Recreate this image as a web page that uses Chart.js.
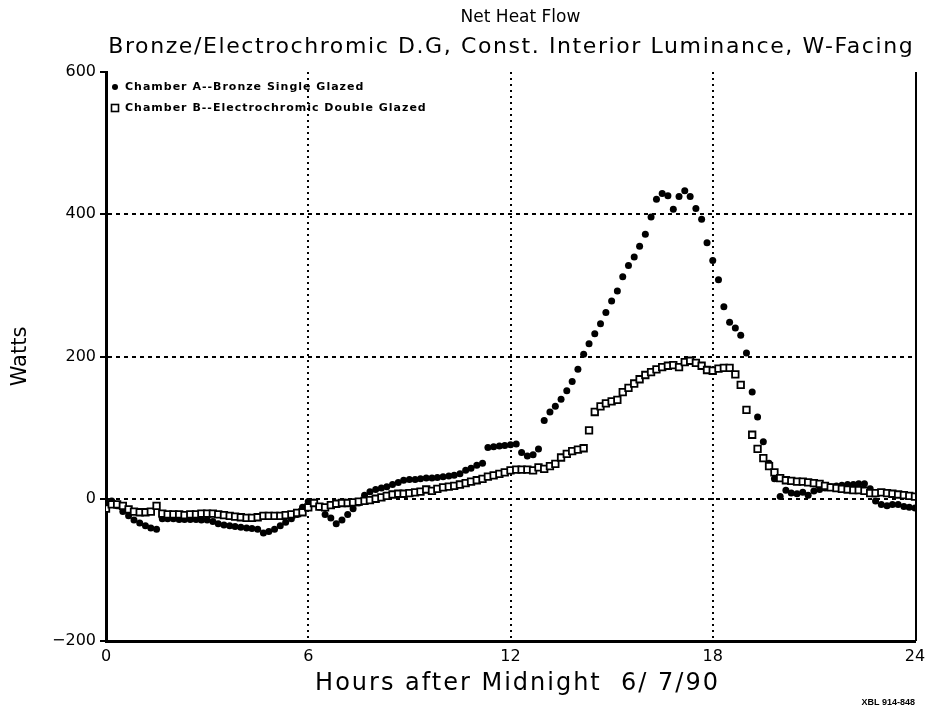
<!DOCTYPE html>
<html><head><meta charset="utf-8">
<script src="https://cdn.jsdelivr.net/npm/chart.js@4/dist/chart.umd.min.js"></script>
<style>html,body{margin:0;padding:0;background:#fff}#wrap{width:932px;height:713px}</style>
</head><body><div id="wrap"><canvas id="c" width="932" height="713"></canvas></div>
<script>
const titleText = 'Net Heat Flow';
const subtitleText = 'Bronze/Electrochromic D.G, Const. Interior Luminance, W-Facing';
const xTitle = 'Hours after Midnight  6/ 7/90';
const yTitle = 'Watts';
const footnote = 'XBL 914-848';
const seriesLabels = ['Chamber A--Bronze Single Glazed', 'Chamber B--Electrochromic Double Glazed'];
const xTicks = [0, 6, 12, 18, 24];
const yTicks = [-200, 0, 200, 400, 600];

const hours = [
  0,0.17,0.33,0.5,0.67,0.83,1,1.17,1.33,1.5,1.67,1.83,
  2,2.17,2.33,2.5,2.67,2.83,3,3.17,3.33,3.5,3.67,3.83,
  4,4.17,4.33,4.5,4.67,4.83,5,5.17,5.33,5.5,5.67,5.83,
  6,6.17,6.33,6.5,6.67,6.83,7,7.17,7.33,7.5,7.67,7.83,
  8,8.17,8.33,8.5,8.67,8.83,9,9.17,9.33,9.5,9.67,9.83,
  10,10.17,10.33,10.5,10.67,10.83,11,11.17,11.33,11.5,11.67,11.83,
  12,12.17,12.33,12.5,12.67,12.83,13,13.17,13.33,13.5,13.67,13.83,
  14,14.17,14.33,14.5,14.67,14.83,15,15.17,15.33,15.5,15.67,15.83,
  16,16.17,16.33,16.5,16.67,16.83,17,17.17,17.33,17.5,17.67,17.83,
  18,18.17,18.33,18.5,18.67,18.83,19,19.17,19.33,19.5,19.67,19.83,
  20,20.17,20.33,20.5,20.67,20.83,21,21.17,21.33,21.5,21.67,21.83,
  22,22.17,22.33,22.5,22.67,22.83,23,23.17,23.33,23.5,23.67,23.83,
  24
];

const chamberA = [
  -12,-3,-10,-18,-24,-30,-34,-38,-41,-43,-28,-28,
  -28,-29,-29,-29,-29,-30,-30,-32,-35,-37,-38,-39,
  -40,-41,-42,-43,-48,-46,-43,-38,-33,-28,-22,-12,
  -4,-5,-12,-22,-27,-35,-30,-22,-14,-6,5,10,
  13,15,17,20,23,26,27,27,28,29,29,30,
  31,32,33,35,40,43,47,50,72,73,74,75,
  76,77,65,60,62,70,110,122,130,140,152,165,
  182,203,218,232,246,262,278,292,312,328,340,355,
  372,396,421,429,426,407,425,433,425,408,393,360,
  335,308,270,248,240,230,205,150,115,80,50,28,
  3,12,8,7,9,5,11,13,15,17,18,19,
  20,20,21,21,14,-3,-8,-10,-8,-8,-11,-12,
  -13
];

const chamberB = [
  -14,-8,-8,-10,-15,-18,-19,-19,-18,-10,-21,-22,
  -22,-22,-23,-22,-22,-21,-21,-21,-22,-23,-24,-25,
  -26,-27,-27,-26,-24,-24,-24,-24,-23,-22,-20,-19,
  -12,-6,-11,-12,-9,-7,-6,-6,-5,-4,-3,-2,
  0,2,4,6,7,7,8,9,10,13,11,14,
  16,17,18,20,22,24,26,28,31,33,35,37,
  40,41,41,41,40,44,42,46,49,58,63,67,
  69,71,96,122,130,134,137,139,150,156,162,168,
  174,178,182,185,187,188,185,192,194,191,187,181,
  180,183,184,184,175,160,125,90,70,57,46,37,
  29,26,25,24,24,23,22,21,18,16,15,14,
  13,12,12,11,8,8,9,8,7,6,5,4,
  3
];

const FONT = 'DejaVu Sans';

function spacedText(ctx, text, x, y, spacing) {
  ctx.letterSpacing = spacing + 'px';
  const w = ctx.measureText(text).width;
  if (ctx.textAlign === 'center') {
    ctx.textAlign = 'left';
    ctx.fillText(text, x - (w - spacing) / 2, y);
    ctx.textAlign = 'center';
  } else {
    ctx.fillText(text, x, y);
  }
  ctx.letterSpacing = '0px';
}

const annotations = {
  id: 'annotations',
  afterDraw(chart) {
    const ctx = chart.ctx;
    const a = chart.chartArea;
    const cx = (a.left + a.right) / 2;
    ctx.save();
    ctx.fillStyle = '#000';
    ctx.textAlign = 'center';
    ctx.textBaseline = 'middle';
    ctx.font = '17px "' + FONT + '"';
    spacedText(ctx, titleText, cx + 10, 18, 0);
    ctx.font = '22px "' + FONT + '"';
    spacedText(ctx, subtitleText, cx, 47, 1.6);
    ctx.font = '24px "' + FONT + '"';
    spacedText(ctx, xTitle, cx + 6, 684, 2);
    // right frame
    ctx.strokeStyle = '#000';
    ctx.lineWidth = 2;
    ctx.beginPath();
    ctx.moveTo(a.right + 1, a.top);
    ctx.lineTo(a.right + 1, a.bottom);
    ctx.stroke();
    // legend
    ctx.textAlign = 'left';
    ctx.font = 'bold 11px "' + FONT + '"';
    const rows = [87, 108];
    chart.data.datasets.forEach((ds, i) => {
      const y = rows[i];
      const x = a.left + 9;
      if (i === 0) {
        ctx.beginPath(); ctx.arc(x, y, 3, 0, Math.PI * 2); ctx.fill();
      } else {
        ctx.lineWidth = 1.6;
        ctx.strokeRect(x - 3.5, y - 3.5, 7, 7);
      }
      spacedText(ctx, ds.label, x + 10, y, 1);
    });
    ctx.textAlign = 'right';
    ctx.font = 'bold 9px "Liberation Sans"';
    ctx.fillText(footnote, a.right, 703);
    ctx.restore();
  }
};

new Chart(document.getElementById('c'), {
  type: 'scatter',
  data: {
    datasets: [
      {
        label: seriesLabels[0],
        data: hours.map((h, i) => ({ x: h, y: chamberA[i] })),
        pointStyle: 'circle', pointRadius: 3.5, pointBackgroundColor: '#000',
        pointBorderColor: '#000', pointBorderWidth: 0, showLine: false, order: 1
      },
      {
        label: seriesLabels[1],
        data: hours.map((h, i) => ({ x: h, y: chamberB[i] })),
        pointStyle: 'rect', pointRadius: 4.6, pointBackgroundColor: '#fff',
        pointBorderColor: '#000', pointBorderWidth: 1.8, showLine: false, order: 0
      }
    ]
  },
  options: {
    responsive: false, animation: false, devicePixelRatio: 1,
    layout: { padding: { top: 72, right: 17, bottom: 0, left: 0 } },
    plugins: { legend: { display: false }, tooltip: { enabled: false } },
    scales: {
      x: {
        type: 'linear', min: 0, max: 24,
        afterBuildTicks: s => { s.ticks = xTicks.map(v => ({ value: v })); },
        afterFit: s => { s.height = 72; },
        ticks: { color: '#000', font: { family: FONT, size: 16 }, padding: 6, maxRotation: 0 },
        grid: {
          color: c => (c.tick && (c.tick.value === 0 || c.tick.value === 24)) ? 'rgba(0,0,0,0)' : '#000',
          lineWidth: 2, drawTicks: false
        },
        border: { display: true, color: '#000', width: 3, dash: [2, 4] },
        title: { display: false, text: xTitle }
      },
      y: {
        type: 'linear', min: -200, max: 600,
        afterBuildTicks: s => { s.ticks = yTicks.map(v => ({ value: v })); },
        afterFit: s => { s.width = 106; },
        ticks: {
          color: '#000', font: { family: FONT, size: 16 }, padding: 4,
          callback: v => (v < 0 ? '\u2212' + Math.abs(v) : String(v))
        },
        grid: {
          color: c => (c.tick && (c.tick.value === -200 || c.tick.value === 600)) ? 'rgba(0,0,0,0)' : '#000',
          lineWidth: 2, drawTicks: true, tickLength: 6, tickColor: '#000', tickWidth: 2
        },
        border: { display: true, color: '#000', width: 3, dash: [4, 4] },
        title: { display: true, text: yTitle, color: '#000', font: { family: FONT, size: 21 }, padding: { top: 8 } }
      }
    }
  },
  plugins: [annotations]
});
</script>
</body></html>
